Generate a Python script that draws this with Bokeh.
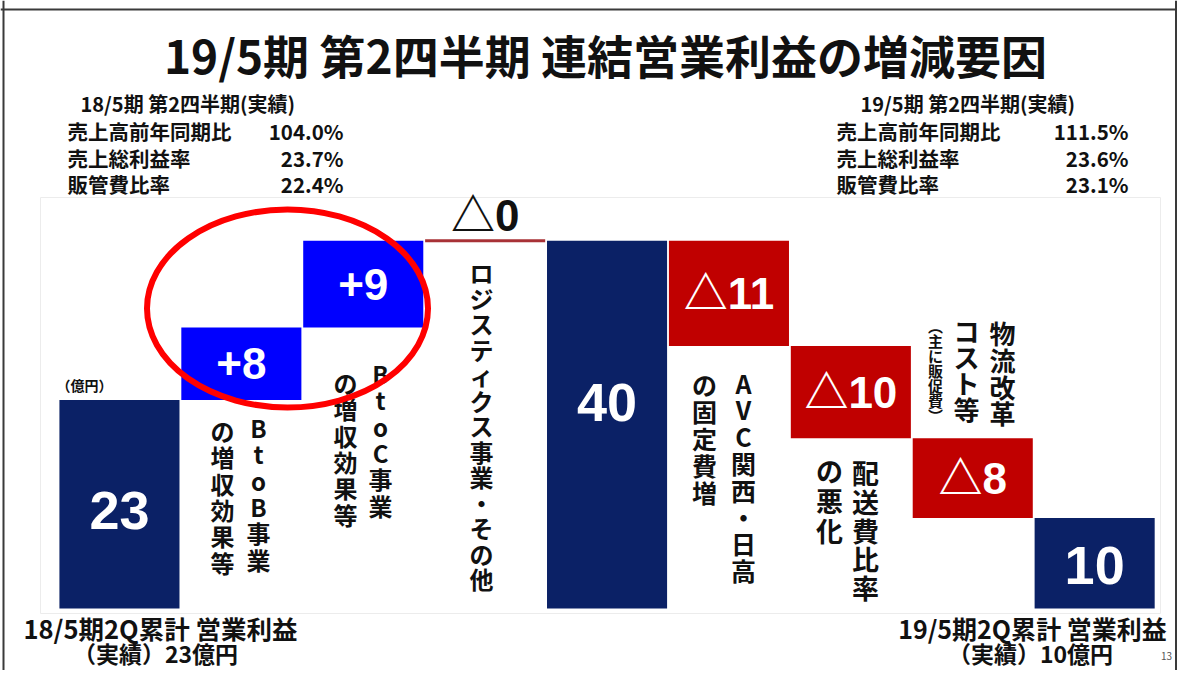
from bokeh.plotting import figure
from bokeh.models import ColumnDataSource, Range1d, Label, Span
from bokeh.core.properties import value
from bokeh.embed import file_html
from bokeh.resources import INLINE

# ---------------- data ----------------
steps = ["18/5期2Q累計", "BtoB事業", "BtoC事業", "ロジスティクス事業・その他", "小計",
         "AVC関西・日高の固定費増", "配送費比率の悪化", "物流改革コスト等", "19/5期2Q累計"]
kinds = ["total", "up", "up", "flat", "total", "down", "down", "down", "total"]
amounts = [22.8, 7.9, 9.5, 0.0, 40.2, -11.5, -10.1, -8.7, 9.9]
value_labels = ["23", "+8", "+9", "△0", "40", "△11", "△10", "△8", "10"]

title_text = "19/5期 第2四半期 連結営業利益の増減要因"
prev_head = "18/5期 第2四半期(実績)"
cur_head = "19/5期 第2四半期(実績)"
metric_names = ["売上高前年同期比", "売上総利益率", "販管費比率"]
prev_metrics = ["104.0%", "23.7%", "22.4%"]
cur_metrics = ["111.5%", "23.6%", "23.1%"]
unit_text = "（億円）"
start_caption = ["18/5期2Q累計 営業利益", "（実績）23億円"]
end_caption = ["19/5期2Q累計 営業利益", "（実績）10億円"]
page_no = "13"

# vertical (tategaki) notes per step, columns right to left
step_notes = {
    1: ["BtoB事業", "の増収効果等"],
    2: ["BtoC事業", "の増収効果等"],
    3: ["ロジスティクス事業・その他"],
    5: ["AVC関西・日高", "の固定費増"],
    6: ["配送費比率", "の悪化"],
    7: ["物流改革", "コスト等", "︵主に販促費︶"],
}

# ---------------- layout ----------------
W, H = 1177, 670
SLOT_L, SLOT_W = 58.0, 121.9
ZERO_PY, PPU = 608.0, 9.15
x_start = -SLOT_L / SLOT_W - 0.5
x_end = x_start + W / SLOT_W
y_end = ZERO_PY / PPU
y_start = -(H - ZERO_PY) / PPU


def X(px):
    return x_start + px / SLOT_W


def Y(py):
    return (ZERO_PY - py) / PPU


JP = "Noto Sans CJK JP"
NUM = "'Liberation Sans', 'Noto Sans CJK JP'"

note_layout = {  # (column x, first char centre y, spacing, font px)  page pixels
    1: [(258, 427, 26.3, 24), (222, 430, 26.3, 24)],
    2: [(380, 373, 26.3, 24), (345, 382, 26.3, 24)],
    3: [(481, 272, 25.5, 24)],
    5: [(743, 382, 26.8, 25), (704, 383, 27.0, 25)],
    6: [(865, 472, 28.8, 27), (829, 470, 30.0, 27)],
    7: [(1002, 332, 26.8, 26), (966, 330, 26.0, 26), (935, 325, 15.0, 15)],
}

colors = {"total": "#0B2166", "up": "#0000FF", "down": "#C00000", "flat": "#C00000"}

# ---------------- waterfall geometry from data ----------------
bottoms, tops, running = [], [], 0.0
for k, a in zip(kinds, amounts):
    if k == "total":
        b, t = 0.0, a
        running = a
    else:
        b, t = running, running + a
        running += a
    bottoms.append(min(b, t))
    tops.append(max(b, t))

xs = list(range(len(steps)))
bar_w = 0.985

p = figure(width=W, height=H, x_range=Range1d(x_start, x_end), y_range=Range1d(y_start, y_end),
           output_backend="svg", toolbar_location=None, min_border=0,
           x_axis_type=None, y_axis_type=None)
p.grid.visible = False
p.outline_line_color = None
p.background_fill_color = "white"
p.border_fill_color = "white"

# faint chart-area frame
p.quad(left=[X(40)], right=[X(1160)], top=[Y(197)], bottom=[Y(613)],
       fill_color=None, line_color="#ececec", line_width=1)

bar_idx = [i for i in xs if kinds[i] != "flat"]
bars = ColumnDataSource(dict(x=[xs[i] for i in bar_idx], top=[tops[i] for i in bar_idx],
                             bottom=[bottoms[i] for i in bar_idx],
                             color=[colors[kinds[i]] for i in bar_idx]))
p.vbar(x="x", top="top", bottom="bottom", width=bar_w, fill_color="color", line_color=None, source=bars)

flat_idx = [i for i in xs if kinds[i] == "flat"]
p.segment(x0=[xs[i] - bar_w / 2 for i in flat_idx], x1=[xs[i] + bar_w / 2 for i in flat_idx],
          y0=[tops[i] for i in flat_idx], y1=[tops[i] for i in flat_idx],
          line_color="#A83236", line_width=3)

# value labels
tot_x, tot_y, tot_t = [], [], []
del_x, del_y, del_t, del_c = [], [], [], []
for i in xs:
    b, t = bottoms[i], tops[i]
    if kinds[i] == "total":
        frac = 0.56 if (t - b) > 30 else 0.47
        tot_x.append(xs[i]); tot_y.append(b + (t - b) * frac); tot_t.append(value_labels[i])
    elif kinds[i] == "flat":
        del_x.append(xs[i]); del_y.append(t + 25 / PPU); del_t.append(value_labels[i]); del_c.append("#111111")
    else:
        del_x.append(xs[i]); del_y.append(b + (t - b) * 0.5); del_t.append(value_labels[i]); del_c.append("white")

p.text(x="x", y="y", text="t", source=ColumnDataSource(dict(x=tot_x, y=tot_y, t=tot_t)),
       text_font=value(NUM), text_font_style="bold", text_font_size="54px",
       text_color="white", text_align="center", text_baseline="middle")
p.text(x="x", y="y", text="t", source=ColumnDataSource(dict(x=del_x, y=del_y, t=del_t, c=del_c)),
       text_font=value(NUM), text_font_style="bold", text_font_size="44px",
       text_color="c", text_align="center", text_baseline="middle")

# vertical notes, one glyph per character
for idx, cols in step_notes.items():
    for text, (cx, cy, sp, fs) in zip(cols, note_layout[idx]):
        chars = list(text)
        src = ColumnDataSource(dict(x=[X(cx)] * len(chars),
                                    y=[Y(cy + k * sp) for k in range(len(chars))], t=chars))
        p.text(x="x", y="y", text="t", source=src, text_font=value(JP), text_font_style="bold",
               text_font_size=f"{fs}px", text_align="center", text_baseline="middle",
               text_color="#111111")


def lab(px, py, text, size, align="left", bold=True, color="#111111", font=JP):
    p.add_layout(Label(x=X(px), y=Y(py), text=text, text_font=font,
                       text_font_style="bold" if bold else "normal",
                       text_font_size=f"{size}px", text_align=align, text_baseline="middle",
                       text_color=color))


# title
lab(605, 53, title_text, 46, align="center")

# info blocks
rows_y = [103, 130, 157, 183]
lab(80, rows_y[0], prev_head, 20)
lab(860, rows_y[0], cur_head, 20)
for r, (nm, pv, cv) in enumerate(zip(metric_names, prev_metrics, cur_metrics)):
    lab(67, rows_y[r + 1], nm, 20.5)
    lab(343, rows_y[r + 1], pv, 20.5, align="right")
    lab(836, rows_y[r + 1], nm, 20.5)
    lab(1128, rows_y[r + 1], cv, 20.5, align="right")

# unit
lab(84, 384, unit_text, 14, align="center")

# captions
lab(160, 627, start_caption[0], 25.5, align="center")
lab(155, 652, start_caption[1], 23, align="center")
lab(1032, 627, end_caption[0], 25, align="center")
lab(1030, 652, end_caption[1], 23, align="center")
lab(1166, 655, page_no, 10, align="center", bold=False, color="#555555")

# red highlight ellipse around BtoB / BtoC
p.ellipse(x=[X(287)], y=[Y(308)], width=[281 / SLOT_W], height=[198 / PPU],
          fill_color=None, line_color="#FF0000", line_width=6)

# slide border (top, left, right)
for loc, dim in [(Y(9), "width"), (X(3), "height"), (X(1175.5), "height")]:
    p.add_layout(Span(location=loc, dimension=dim, line_color="#3a3a3a", line_width=2))

open("out.html", "w").write(file_html(p, INLINE))
